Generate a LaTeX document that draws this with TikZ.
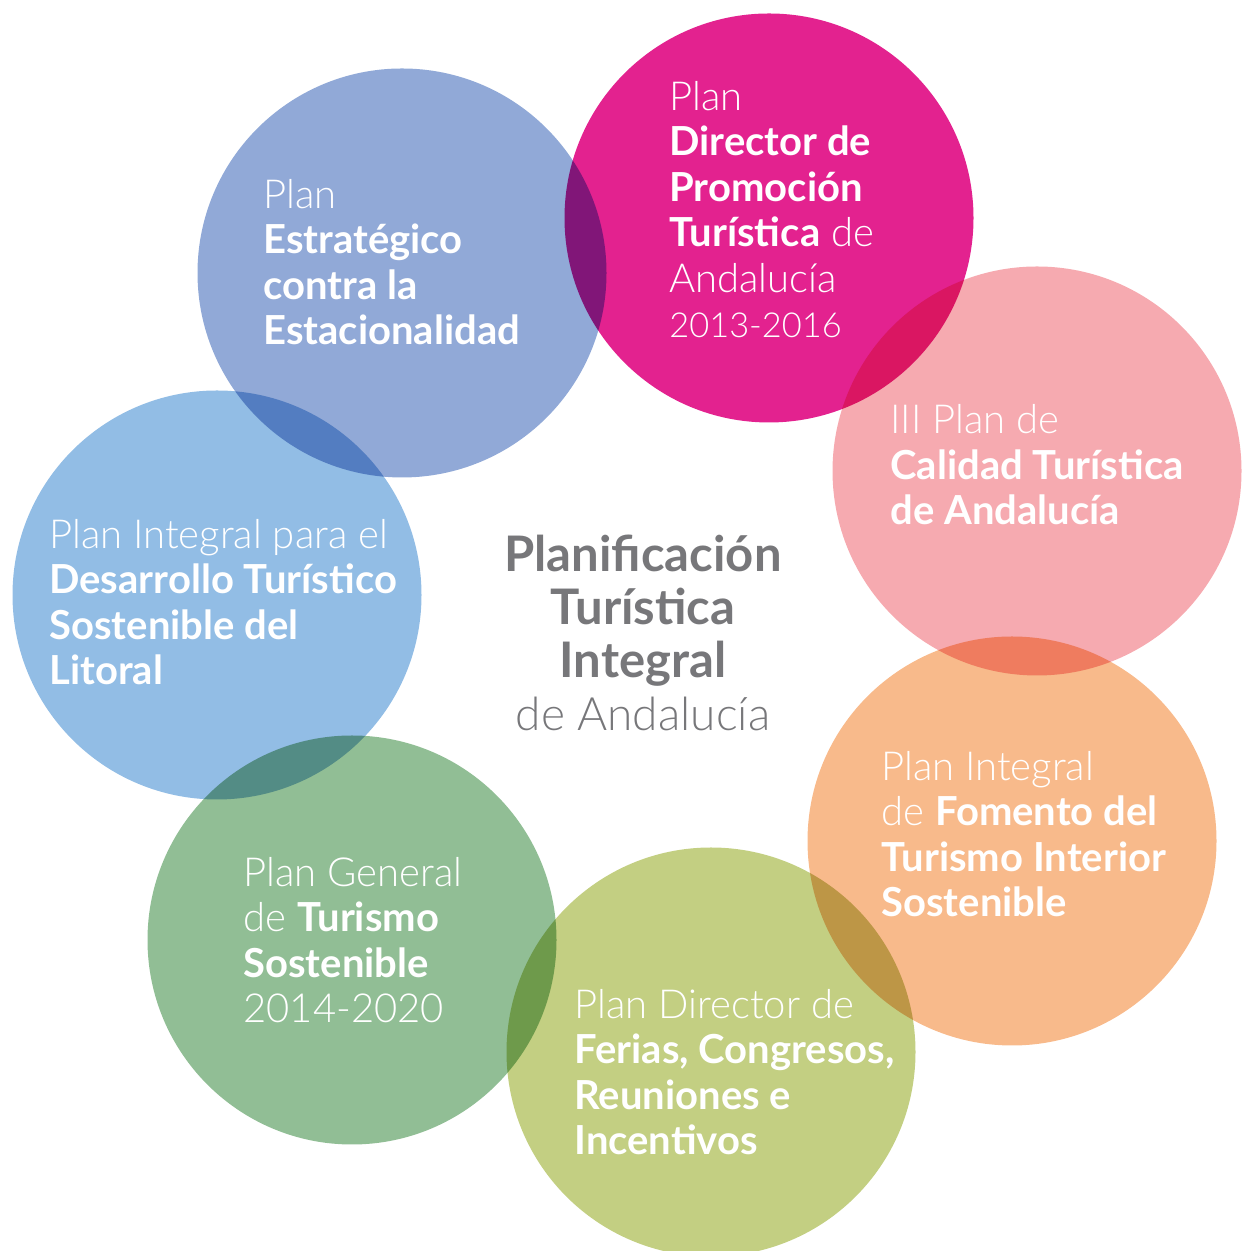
\documentclass[tikz,border=0pt]{standalone}
\usepackage{fontspec}
\setmainfont{Lato}
\newfontfamily\lightfont{Lato Light}
\usepackage{xcolor}
\definecolor{myviolet}{HTML}{91A9D7}
\definecolor{mymagenta}{HTML}{E3228F}
\definecolor{mypink}{HTML}{F6AAB0}
\definecolor{myorange}{HTML}{F8BA8B}
\definecolor{mylime}{HTML}{C3CF82}
\definecolor{mygreen}{HTML}{91BE95}
\definecolor{myblue}{HTML}{92BDE5}
\definecolor{mygray}{HTML}{77777A}
\tikzset{
	plan/.style={circle,draw=none,minimum size=204.5pt,inner sep=0,outer sep=0},
	plan text/.style={anchor=base west,align=left,inner sep=0,white,
	  font=\lightfont\fontsize{20}{22.75}\selectfont}, % base = last line
	title/.style={anchor=base,align=center,inner sep=0,mygray,
	  font=\lightfont\fontsize{23}{26.5}\selectfont}
}
\newcommand\hl[1]{{\normalfont\bfseries #1}}
\newcommand\tl[1]{{\normalfont\bfseries\fontsize{24.5}{26.5}\selectfont #1}}

\begin{document}
\begin{tikzpicture}[x=0.5pt,y=0.5pt]
  \useasboundingbox (0,0) rectangle (1241,1251);

  % CIRCLES (multiplied where they overlap)
  \begin{scope}[blend group=multiply]
    \foreach \name/\x/\y/\col in {
        estac/402/978/myviolet,
        promo/769/1033/mymagenta,
        calid/1037/780/mypink,
        inter/1012/410/myorange,
        ferias/711/199/mylime,
        sosten/352/311/mygreen,
        litoral/217/656/myblue}{ % loop over plans
      \node[plan,fill=\col] (\name) at (\x,\y) {};
    }
  \end{scope}

  % TEXTS
  \node[plan text] (estac-t) at (263,906)
    {Plan\\ \hl{Estratégico}\\ \hl{contra la}\\ \hl{Estacionalidad}};
  \node[plan text] (promo-t) at (669,913)
    {Plan\\ \hl{Director de}\\ \hl{Promoción}\\ \hl{Turística} de\\ Andalucía\\
     {\fontsize{17.2}{22.75}\selectfont 2013-2016}};
  \node[plan text] (calid-t) at (890,726)
    {III Plan de\\ \hl{Calidad Turística}\\ \hl{de Andalucía}};
  \node[plan text] (inter-t) at (881,334)
    {Plan Integral\\ de \hl{Fomento del}\\ \hl{Turismo Interior}\\ \hl{Sostenible}};
  \node[plan text] (ferias-t) at (574,96)
    {Plan Director de\\ \hl{Ferias, Congresos,}\\ \hl{Reuniones e}\\ \hl{Incentivos}};
  \node[plan text] (sosten-t) at (243,228)
    {Plan General\\ de \hl{Turismo}\\ \hl{Sostenible}\\ 2014-2020};
  \node[plan text] (litoral-t) at (49,566)
    {Plan Integral para el\\ \hl{Desarrollo Turístico}\\ \hl{Sostenible del}\\ \hl{Litoral}};

  % CENTRE
  \node[title] (centre) at (643,520)
    {\tl{Planificación}\\ \tl{Turística}\\ \tl{Integral}\\ de Andalucía};

\end{tikzpicture}
\end{document}
